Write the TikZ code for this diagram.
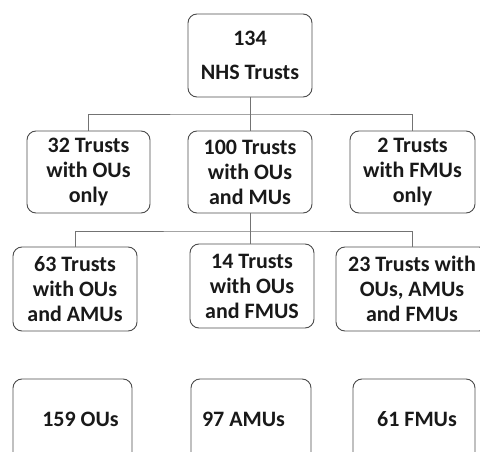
\documentclass[tikz,border=0pt]{standalone}
\usepackage{fontspec}
\setmainfont{Carlito}
\begin{document}
\begin{tikzpicture}[x=1pt,y=-1pt,
  box/.style={draw=black!70,line width=0.9pt,rounded corners=9pt,inner sep=0pt,align=center,
    font=\bfseries\fontsize{22}{25}\selectfont,text=black!90},
  lbl/.style={inner sep=0pt,font=\bfseries\fontsize{22}{25}\selectfont,text=black!90},
  conn/.style={draw=black!55,line width=0.9pt}]
\useasboundingbox (0,0) rectangle (480,452);
\clip (0,0) rectangle (480,452);
% row 1
\node[box,minimum width=124pt,minimum height=83pt,font=\bfseries\fontsize{22}{34}\selectfont] (top) at (250,55.5) {134\\NHS Trusts};
% row 2
\node[box,minimum width=123pt,minimum height=82pt] (r2a) at (88.5,172) {32 Trusts\\with OUs\\only};
\node[box,minimum width=124pt,minimum height=82pt] (r2b) at (250,172) {100 Trusts\\with OUs\\and MUs};
\node[box,minimum width=125pt,minimum height=82pt] (r2c) at (412.5,172) {2 Trusts\\with FMUs\\only};
% row 3
\node[box,minimum width=124pt,minimum height=84pt] (r3a) at (75,289) {63 Trusts\\with OUs\\and AMUs};
\node[box,minimum width=124pt,minimum height=84pt] (r3b) at (252,286) {14 Trusts\\with OUs\\and FMUS};
\node[box,minimum width=152pt,minimum height=84pt] (r3c) at (412,289) {23 Trusts with\\OUs, AMUs\\and FMUs};
% row 4
\node[box,minimum width=119pt,minimum height=84pt] (r4a) at (72.5,421) {};
\node[box,minimum width=120pt,minimum height=84pt] (r4b) at (251,421) {};
\node[box,minimum width=122pt,minimum height=84pt] (r4c) at (414,421) {};
\node[lbl] (t4a) at (80.5,419) {159 OUs};
\node[lbl] (t4b) at (243.5,419) {97 AMUs};
\node[lbl] (t4c) at (417,419) {61 FMUs};
% connectors
\coordinate (bus1) at (250,114);
\coordinate (bus2) at (250,231);
\draw[conn] (top.south) -- (bus1);
\draw[conn] (r2a.north) |- (bus1) -| (r2c.north);
\draw[conn] (bus1) -- (r2b.north);
\draw[conn] (r2b.south) -- (bus2);
\draw[conn] (r3a.north) |- (bus2) -| (r3c.north);
\draw[conn] (bus2) -- (bus2 |- r3b.north);
\end{tikzpicture}
\end{document}
